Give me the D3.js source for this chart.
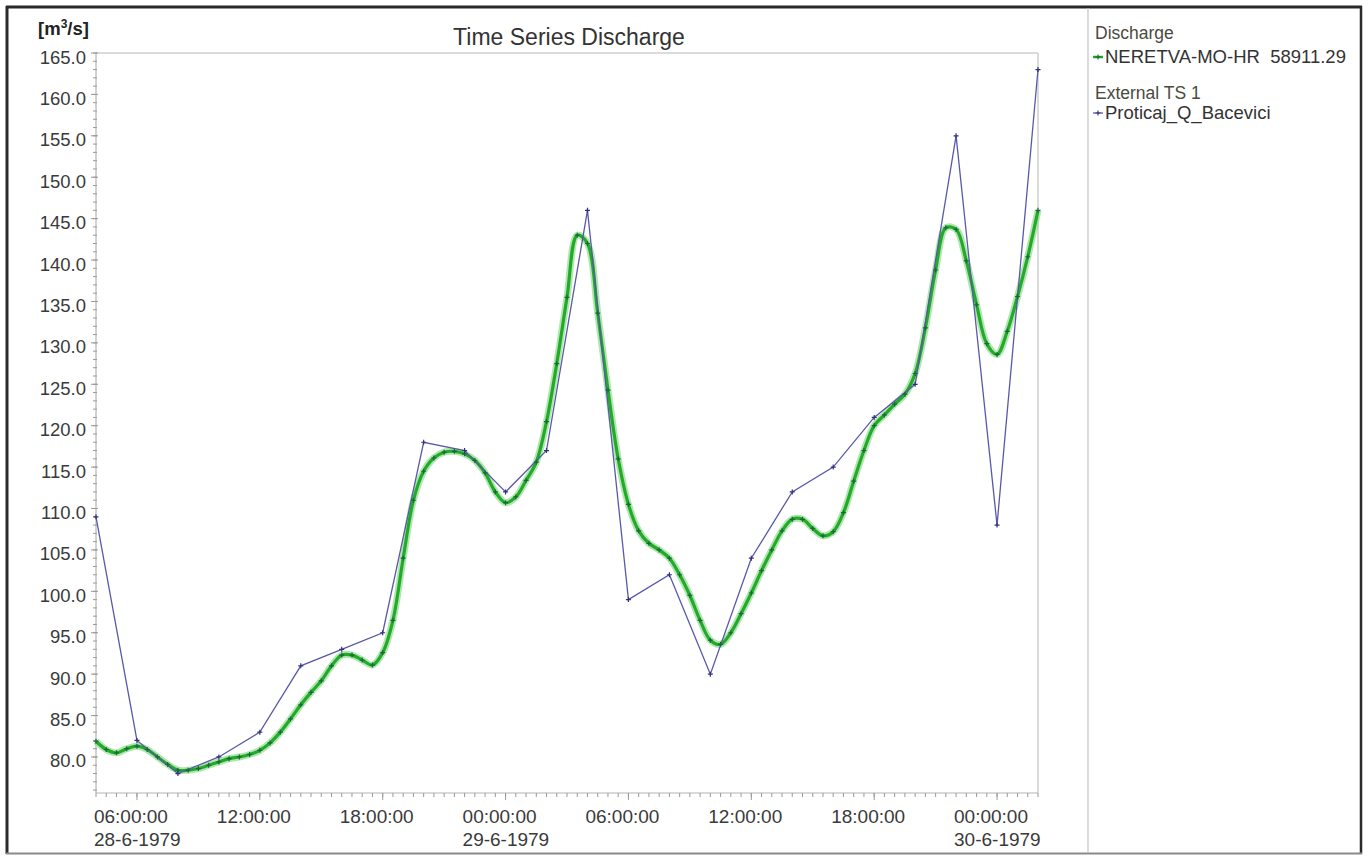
<!DOCTYPE html>
<html>
<head>
<meta charset="utf-8">
<script src="https://cdn.jsdelivr.net/npm/d3@7"></script>
<style>
  html, body { margin: 0; padding: 0; background: #fff; }
  svg { display: block; font-family: "Liberation Sans", Arial, Helvetica, sans-serif; }
  text { white-space: pre; }
</style>
</head>
<body>
<svg id="chart" width="1369" height="856"></svg>
<script>
// ---------------- DATA ----------------
const chartTitle = "Time Series Discharge";
const seriesStart = new Date(1979, 5, 28, 4, 0, 0);   // 28-6-1979 04:00
const seriesEnd   = new Date(1979, 5, 30, 2, 0, 0);   // 30-6-1979 02:00

// NERETVA-MO-HR 58911.29 (simulated), every 30 minutes from 28-6-1979 04:00
const dischargeStepMinutes = 30;
const dischargeValues = [
  81.9, 80.9, 80.5, 81.0, 81.3, 80.9, 80.0, 79.1, 78.4, 78.4,
  78.6, 79.0, 79.4, 79.8, 80.0, 80.3, 80.8, 81.7, 83.0, 84.6,
  86.3, 87.8, 89.2, 91.0, 92.3, 92.3, 91.7, 91.1, 92.6, 96.5,
  104.0, 111.0, 114.5, 116.1, 116.8, 116.9, 116.6, 115.8, 114.3, 112.0,
  110.7, 111.4, 113.4, 115.6, 120.5, 127.5, 135.5, 143.0, 142.0, 133.6,
  124.3, 116.0, 110.5, 107.3, 105.8, 105.0, 104.0, 102.0, 99.5, 96.5,
  94.1, 93.6, 95.0, 97.3, 99.8, 102.5, 105.0, 107.3, 108.7, 108.7,
  107.6, 106.7, 107.2, 109.5, 113.3, 117.0, 120.0, 121.3, 122.6, 123.8,
  126.3, 131.8, 138.8, 143.9, 143.7, 139.9, 134.6, 129.9, 128.6, 131.4,
  135.6, 140.4, 146.0
];

// Proticaj_Q_Bacevici (observed), every 2 hours from 28-6-1979 04:00
const observedStepMinutes = 120;
const observedValues = [
  109, 82, 78, 80, 83, 91, 93, 95, 118, 117, 112, 117,
  146, 99, 102, 90, 104, 112, 115, 121, 125, 155, 108, 163
];

// Axis ticks and labels
const yDomain = [75.65, 165];
const yTickValues = [80, 85, 90, 95, 100, 105, 110, 115, 120, 125, 130, 135, 140, 145, 150, 155, 160, 165];
const xTickDates = [
  new Date(1979, 5, 28, 6), new Date(1979, 5, 28, 12), new Date(1979, 5, 28, 18),
  new Date(1979, 5, 29, 0), new Date(1979, 5, 29, 6), new Date(1979, 5, 29, 12),
  new Date(1979, 5, 29, 18), new Date(1979, 5, 30, 0)
];
const xTimeLabels = ["06:00:00", "12:00:00", "18:00:00", "00:00:00", "06:00:00", "12:00:00", "18:00:00", "00:00:00"];
const xDateLabels = ["28-6-1979", "", "", "29-6-1979", "", "", "", "30-6-1979"];

const legendGroups = [
  { title: "Discharge", item: "NERETVA-MO-HR  58911.29", key: "sim" },
  { title: "External TS 1", item: "Proticaj_Q_Bacevici", key: "obs" }
];

// ---------------- LAYOUT ----------------
const W = 1369, H = 856;
const plot = { left: 96, right: 1038, top: 53, bottom: 793 };
const colors = {
  simLine: "#22aa28", simGlow: "#8fdc8f", simMark: "#19683a",
  obsLine: "#5a58aa", obsMark: "#30307a",
  axis: "#b4b4b4", tick: "#9a9a9a", text: "#3a3a3a"
};

const svg = d3.select("#chart");

const x = d3.scaleTime().domain([seriesStart, seriesEnd]).range([plot.left, plot.right]);
const y = d3.scaleLinear().domain(yDomain).range([plot.bottom, plot.top]);

const simData = dischargeValues.map((v, i) => ({ t: d3.timeMinute.offset(seriesStart, i * dischargeStepMinutes), v }));
const obsData = observedValues.map((v, i) => ({ t: d3.timeMinute.offset(seriesStart, i * observedStepMinutes), v }));

// Outer frame
svg.append("rect").attr("x", 0).attr("y", 0).attr("width", W).attr("height", H).attr("fill", "#fff");
svg.append("line").attr("x1", 7).attr("x2", 7).attr("y1", 6).attr("y2", 854).attr("stroke", "#2a2a2a").attr("stroke-width", 3);
svg.append("line").attr("x1", 6).attr("x2", 1362).attr("y1", 7).attr("y2", 7).attr("stroke", "#2a2a2a").attr("stroke-width", 3);
svg.append("line").attr("x1", 1361).attr("x2", 1361).attr("y1", 6).attr("y2", 854).attr("stroke", "#2a2a2a").attr("stroke-width", 2.5);
svg.append("line").attr("x1", 6).attr("x2", 1362).attr("y1", 853.5).attr("y2", 853.5).attr("stroke", "#8a8a8a").attr("stroke-width", 2);
// Divider between plot and legend
svg.append("line").attr("x1", 1088).attr("x2", 1088).attr("y1", 8).attr("y2", 853).attr("stroke", "#c4c4c4").attr("stroke-width", 1.2);

// Plot frame (top and right)
svg.append("line").attr("x1", plot.left).attr("x2", plot.right).attr("y1", plot.top).attr("y2", plot.top).attr("stroke", "#cfcfcf").attr("stroke-width", 1.5);
svg.append("line").attr("x1", plot.right).attr("x2", plot.right).attr("y1", plot.top).attr("y2", plot.bottom).attr("stroke", "#cfcfcf").attr("stroke-width", 1.5);

// Y axis
const yMinor = d3.range(76, 166, 1);
const yAxisG = svg.append("g").attr("transform", `translate(${plot.left},0)`);
yAxisG.append("line").attr("x1", 0).attr("x2", 0).attr("y1", plot.top).attr("y2", plot.bottom).attr("stroke", colors.axis).attr("stroke-width", 1.2);
yAxisG.selectAll("line.minor").data(yMinor).join("line").attr("class", "minor")
  .attr("x1", -3).attr("x2", 1).attr("y1", d => y(d)).attr("y2", d => y(d))
  .attr("stroke", colors.tick).attr("stroke-width", 1);
yAxisG.selectAll("line.major").data(yTickValues).join("line").attr("class", "major")
  .attr("x1", -5).attr("x2", 2).attr("y1", d => y(d)).attr("y2", d => y(d))
  .attr("stroke", colors.tick).attr("stroke-width", 1);
yAxisG.selectAll("text").data(yTickValues).join("text")
  .attr("x", -10).attr("y", d => y(d) + 10.5)
  .attr("text-anchor", "end").attr("font-size", 18.5).attr("fill", colors.text)
  .text(d3.format(".1f"));

// Unit label
const unit = svg.append("text").attr("x", 38).attr("y", 35).attr("font-size", 18.5).attr("font-weight", "bold").attr("fill", "#222");
unit.append("tspan").text("[m");
unit.append("tspan").attr("font-size", 12).attr("dy", -7).text("3");
unit.append("tspan").attr("dy", 7).text("/s]");

// X axis
const xMinor = d3.timeMinute.every(30).range(seriesStart, d3.timeMinute.offset(seriesEnd, 1));
const xAxisG = svg.append("g").attr("transform", `translate(0,${plot.bottom})`);
xAxisG.append("line").attr("x1", plot.left).attr("x2", plot.right).attr("y1", 0).attr("y2", 0).attr("stroke", colors.axis).attr("stroke-width", 1.2);
xAxisG.selectAll("line.minor").data(xMinor).join("line").attr("class", "minor")
  .attr("x1", d => x(d)).attr("x2", d => x(d)).attr("y1", 0).attr("y2", 4)
  .attr("stroke", colors.tick).attr("stroke-width", 1);
xAxisG.selectAll("line.major").data(xTickDates).join("line").attr("class", "major")
  .attr("x1", d => x(d)).attr("x2", d => x(d)).attr("y1", 0).attr("y2", 7)
  .attr("stroke", colors.tick).attr("stroke-width", 1);
xAxisG.selectAll("text.time").data(xTickDates).join("text").attr("class", "time")
  .attr("x", d => x(d) - 43).attr("y", 30)
  .attr("font-size", 19).attr("fill", colors.text)
  .text((d, i) => xTimeLabels[i]);
xAxisG.selectAll("text.date").data(xTickDates).join("text").attr("class", "date")
  .attr("x", d => x(d) - 43).attr("y", 53)
  .attr("font-size", 19).attr("fill", colors.text)
  .text((d, i) => xDateLabels[i]);

// Title
svg.append("text").attr("x", (plot.left + plot.right) / 2 + 2).attr("y", 45)
  .attr("text-anchor", "middle").attr("font-size", 23).attr("fill", "#333")
  .text(chartTitle);

// Series: simulated discharge (green)
const simLine = d3.line().x(d => x(d.t)).y(d => y(d.v)).curve(d3.curveCatmullRom.alpha(0.5));
const plotG = svg.append("g");
plotG.append("path").datum(simData).attr("d", simLine).attr("fill", "none")
  .attr("stroke", colors.simGlow).attr("stroke-width", 7).attr("stroke-opacity", 0.7).attr("stroke-linejoin", "round");
plotG.append("path").datum(simData).attr("d", simLine).attr("fill", "none")
  .attr("stroke", colors.simLine).attr("stroke-width", 3.2).attr("stroke-linejoin", "round");

// Series: observed (blue)
const obsLine = d3.line().x(d => x(d.t)).y(d => y(d.v));
plotG.append("path").datum(obsData).attr("d", obsLine).attr("fill", "none")
  .attr("stroke", colors.obsLine).attr("stroke-width", 1.3);

// Markers
const cross = (s) => `M${-s},0H${s}M0,${-s}V${s}`;
plotG.selectAll("path.simMark").data(simData).join("path").attr("class", "simMark")
  .attr("transform", d => `translate(${x(d.t)},${y(d.v)})`)
  .attr("d", cross(2.5)).attr("stroke", colors.simMark).attr("stroke-width", 1.2).attr("fill", "none");
plotG.selectAll("path.obsMark").data(obsData).join("path").attr("class", "obsMark")
  .attr("transform", d => `translate(${x(d.t)},${y(d.v)})`)
  .attr("d", cross(2.5)).attr("stroke", colors.obsMark).attr("stroke-width", 1.2).attr("fill", "none");

// Legend
const legendY = [[39, 63], [99, 119]];
legendGroups.forEach((g, i) => {
  const [ty, iy] = legendY[i];
  svg.append("text").attr("x", 1095).attr("y", ty).attr("font-size", 17.5).attr("fill", "#4a4a40").text(g.title);
  const col = g.key === "sim" ? colors.simLine : colors.obsLine;
  const mcol = g.key === "sim" ? colors.simMark : colors.obsMark;
  svg.append("line").attr("x1", 1093).attr("x2", 1103).attr("y1", iy - 6).attr("y2", iy - 6)
    .attr("stroke", col).attr("stroke-width", g.key === "sim" ? 2.5 : 1.3);
  svg.append("path").attr("transform", `translate(1098,${iy - 6})`).attr("d", cross(2.5))
    .attr("stroke", mcol).attr("stroke-width", 1.1).attr("fill", "none");
  svg.append("text").attr("x", 1105).attr("y", iy).attr("font-size", 18.5).attr("fill", "#333").text(g.item);
});
</script>
</body>
</html>
